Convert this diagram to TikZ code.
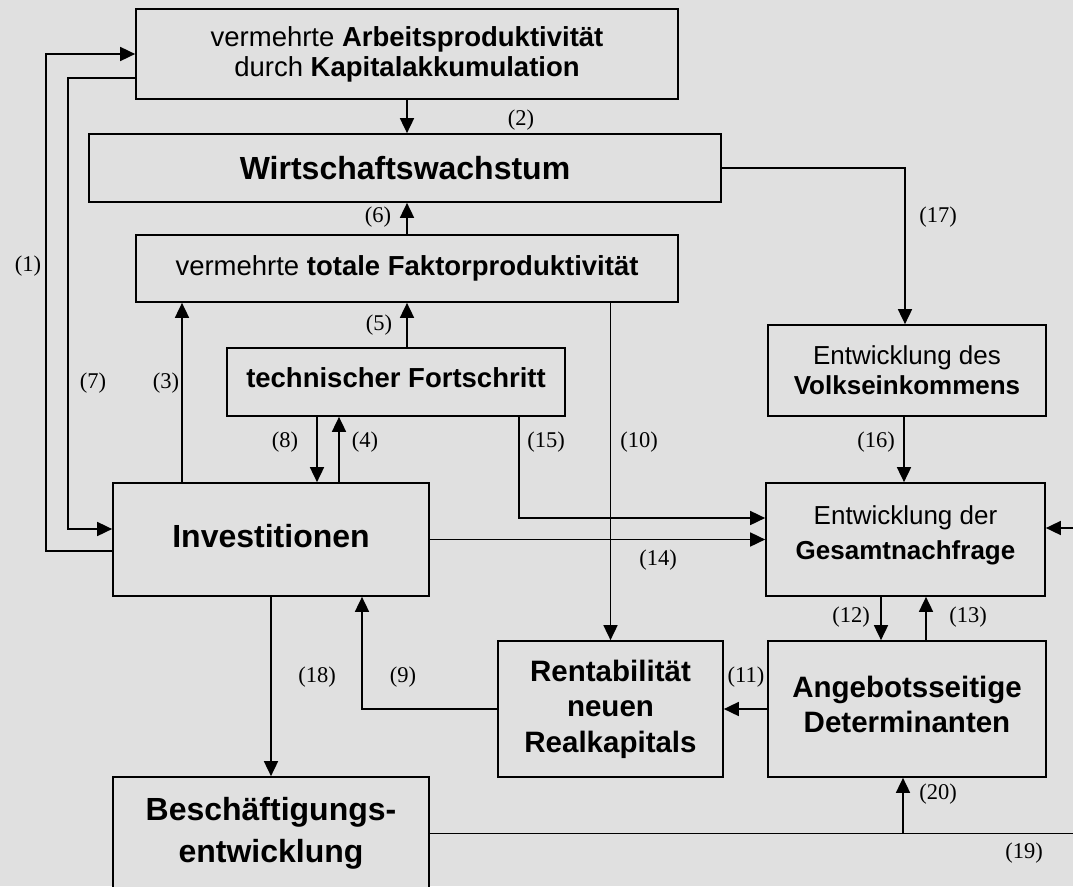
\documentclass[tikz,border=0pt]{standalone}
\usepackage{fontspec}
\setmainfont{Liberation Serif}
\newfontfamily\arialfam{Liberation Sans}
\usetikzlibrary{arrows.meta}
\definecolor{bg}{RGB}{224,224,224}
\begin{document}
\begin{tikzpicture}[x=1pt,y=-1pt,
  box/.style={draw, line width=1.7pt, fill=bg, inner sep=0pt, align=center, anchor=center},
  arr/.style={line width=1.7pt, -{Triangle[length=15pt,width=14pt]}},
  ln/.style={line width=1.7pt},
  lab/.style={font=\fontsize{22.5}{25}\selectfont, inner sep=0pt}]
\clip (0,0) rectangle (1073,886);
\fill[bg] (0,0) rectangle (1073,886);
% boxes
\node[box, minimum width=542pt, minimum height=90pt, font=\arialfam\fontsize{27.5}{30}\selectfont] (ap) at (407,54)
  {vermehrte \textbf{Arbeitsproduktivität}\\durch \textbf{Kapitalakkumulation}};
\node[box, minimum width=632pt, minimum height=68pt, font=\arialfam\bfseries\fontsize{32}{36}\selectfont] (ww) at (405,168)
  {Wirtschaftswachstum};
\node[box, minimum width=542pt, minimum height=67pt, font=\arialfam\fontsize{27.5}{30}\selectfont] (tfp) at (407,268.5)
  {vermehrte \textbf{totale Faktorproduktivität}};
\node[box, minimum width=338pt, minimum height=68pt, text depth=9pt, font=\arialfam\bfseries\fontsize{27.5}{30}\selectfont] (tf) at (396,382)
  {technischer Fortschritt};
\node[box, minimum width=316pt, minimum height=113pt, text depth=8pt, font=\arialfam\bfseries\fontsize{32}{36}\selectfont] (inv) at (271,539.5)
  {Investitionen};
\node[box, minimum width=278pt, minimum height=91pt, font=\arialfam\fontsize{26}{30}\selectfont] (vek) at (907,370.5)
  {Entwicklung des\\\textbf{Volkseinkommens}};
\node[box, minimum width=279pt, minimum height=113pt, text depth=13pt, font=\arialfam\fontsize{26}{35}\selectfont] (gn) at (905.5,539.5)
  {Entwicklung der\\\textbf{Gesamtnachfrage}};
\node[box, minimum width=225pt, minimum height=136pt, font=\arialfam\bfseries\fontsize{29.5}{35.5}\selectfont] (ren) at (610.5,709)
  {Rentabilität\\neuen\\Realkapitals};
\node[box, minimum width=278pt, minimum height=136pt, text depth=10pt, font=\arialfam\bfseries\fontsize{29.5}{35}\selectfont] (ang) at (907,709)
  {Angebotsseitige\\Determinanten};
\node[box, minimum width=316pt, minimum height=113pt, font=\arialfam\bfseries\fontsize{32}{42}\selectfont] (bes) at (271,833.5)
  {Beschäftigungs-\\entwicklung};
% helper coordinates
\coordinate (c1) at (46,54);
\coordinate (c7) at (68,78);
\coordinate (eR) at (1080,528);
\coordinate (e19) at (1080,833.5);
% connectors
\draw[arr] ([yshift=-11.5pt]inv.west) -| (c1) -- (ap.west);
\draw[arr] ([yshift=-24pt]ap.west) -- (c7) |- ([yshift=10.5pt]inv.west);
\draw[arr] (ap.south) -- (ap.south |- ww.north);
\draw[arr] (tfp.north) -- (tfp.north |- ww.south);
\draw[arr] ([xshift=11pt]tf.north) coordinate (a5) -- (a5 |- tfp.south);
\draw[arr] ([xshift=-89pt]inv.north) coordinate (a3) -- (a3 |- tfp.south);
\draw[arr] ([xshift=-79pt]tf.south) coordinate (a8) -- (a8 |- inv.north);
\draw[arr] ([xshift=68pt]inv.north) coordinate (a4) -- (a4 |- tf.south);
\draw[arr] ([xshift=123pt]tf.south) |- ([yshift=21.5pt]gn.west);
\draw[arr] (inv.east) -- (gn.west);
\draw[arr] (ren.north |- tfp.south) -- (ren.north);
\draw[arr] (ww.east) -| ([xshift=-2pt]vek.north);
\draw[arr] ([xshift=-3pt]vek.south) coordinate (a16) -- (a16 |- gn.north);
\draw[arr] ([xshift=-24.5pt]gn.south) coordinate (a12) -- (a12 |- ang.north);
\draw[arr] ([xshift=19pt]ang.north) coordinate (a13) -- (a13 |- gn.south);
\draw[arr] (ang.west) -- (ren.east);
\draw[arr] (ren.west) -| ([xshift=91pt]inv.south);
\draw[arr] (inv.south) -- (bes.north);
\draw[ln] (bes.east) -- (e19);
\draw[arr] ([xshift=-4pt]ang.south |- bes.east) -- ([xshift=-4pt]ang.south);
\draw[arr] (eR) -- ([yshift=11.5pt]gn.east);
% labels
\node[lab] (l1) at (28,266) {(1)};
\node[lab] (l2) at (521,120) {(2)};
\node[lab] (l3) at (166,383) {(3)};
\node[lab] (l4) at (365,442) {(4)};
\node[lab] (l5) at (379,325) {(5)};
\node[lab] (l6) at (378,217) {(6)};
\node[lab] (l7) at (93,383) {(7)};
\node[lab] (l8) at (285,442) {(8)};
\node[lab] (l9) at (403,677) {(9)};
\node[lab] (l10) at (639,442) {(10)};
\node[lab] (l11) at (746,677) {(11)};
\node[lab] (l12) at (851,617) {(12)};
\node[lab] (l13) at (968,617) {(13)};
\node[lab] (l14) at (658,560) {(14)};
\node[lab] (l15) at (546,442) {(15)};
\node[lab] (l16) at (876,442) {(16)};
\node[lab] (l17) at (938,217) {(17)};
\node[lab] (l18) at (317,677) {(18)};
\node[lab] (l19) at (1024,853) {(19)};
\node[lab] (l20) at (938,794) {(20)};
\end{tikzpicture}
\end{document}
